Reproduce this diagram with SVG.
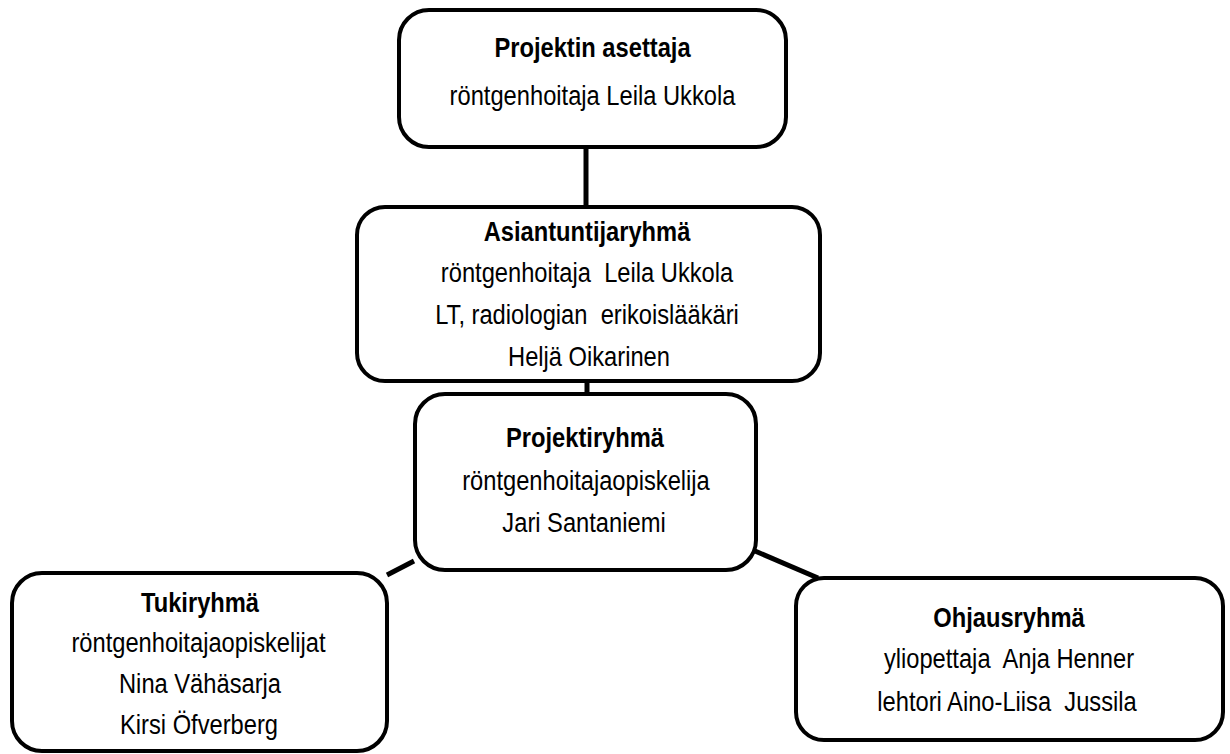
<svg xmlns="http://www.w3.org/2000/svg" width="1230" height="754" viewBox="0 0 1230 754">
<style>
  .box { fill: #ffffff; stroke: #000000; stroke-width: 4; }
  .conn { stroke: #000000; stroke-width: 5; fill: none; }
  text { font-family: "Liberation Sans", Arial, sans-serif; font-size: 27.5px; fill: #000000; text-anchor: middle; white-space: pre; }
  .title { font-weight: bold; }
</style>
<rect width="1230" height="754" fill="#ffffff"/>
<g id="connectors">
  <line class="conn" x1="586" y1="147" x2="586" y2="207"/>
  <line class="conn" x1="587" y1="381" x2="587" y2="394"/>
  <line class="conn" x1="414" y1="561" x2="387" y2="575"/>
  <line class="conn" x1="755" y1="551" x2="818" y2="578"/>
</g>
<g id="node-asettaja">
  <rect class="box" x="399" y="10" width="387" height="137" rx="30" ry="30"/>
  <text class="title" transform="matrix(0.862 0 0 1 592.5 57)">Projektin asettaja</text>
  <text transform="matrix(0.862 0 0 1 592.5 105)">röntgenhoitaja Leila Ukkola</text>
</g>
<g id="node-asiantuntijaryhma">
  <rect class="box" x="357" y="207" width="463" height="174" rx="28" ry="28"/>
  <text class="title" transform="matrix(0.862 0 0 1 587 241)">Asiantuntijaryhmä</text>
  <text transform="matrix(0.862 0 0 1 587 282)">röntgenhoitaja  Leila Ukkola</text>
  <text transform="matrix(0.862 0 0 1 587 324)">LT, radiologian  erikoislääkäri</text>
  <text transform="matrix(0.862 0 0 1 589 366)">Heljä Oikarinen</text>
</g>
<g id="node-projektiryhma">
  <rect class="box" x="415" y="394" width="341" height="176" rx="30" ry="30"/>
  <text class="title" transform="matrix(0.862 0 0 1 585 447)">Projektiryhmä</text>
  <text transform="matrix(0.862 0 0 1 586 490)">röntgenhoitajaopiskelija</text>
  <text transform="matrix(0.862 0 0 1 584 532)">Jari Santaniemi</text>
</g>
<g id="node-tukiryhma">
  <rect class="box" x="12" y="573" width="375" height="178" rx="30" ry="30"/>
  <text class="title" transform="matrix(0.862 0 0 1 200 612)">Tukiryhmä</text>
  <text transform="matrix(0.862 0 0 1 198.5 652)">röntgenhoitajaopiskelijat</text>
  <text transform="matrix(0.862 0 0 1 200 693)">Nina Vähäsarja</text>
  <text transform="matrix(0.862 0 0 1 199 734)">Kirsi Öfverberg</text>
</g>
<g id="node-ohjausryhma">
  <rect class="box" x="796" y="578" width="427" height="162" rx="28" ry="28"/>
  <text class="title" transform="matrix(0.862 0 0 1 1009 627)">Ohjausryhmä</text>
  <text transform="matrix(0.862 0 0 1 1009 668)">yliopettaja  Anja Henner</text>
  <text transform="matrix(0.862 0 0 1 1007 711)">lehtori Aino-Liisa  Jussila</text>
</g>
</svg>
